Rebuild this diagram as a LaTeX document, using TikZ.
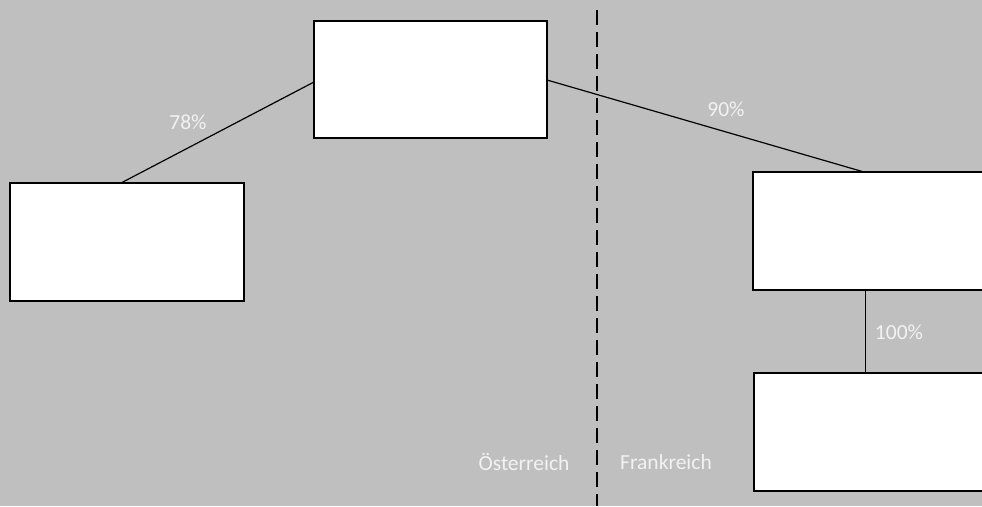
\documentclass[tikz,border=0pt]{standalone}
\usepackage{fontspec}
\setmainfont{Carlito}
\begin{document}
\begin{tikzpicture}[x=1pt,y=-1pt,
  box/.style={draw=black,line width=2.6pt,fill=white,rectangle,inner sep=0pt,outer sep=0pt},
  link/.style={draw=black,line width=1.2pt},
  border/.style={draw=black,line width=2pt,dash pattern=on 15pt off 7pt},
  lbl/.style={text=white!95!black,font=\fontsize{21.5}{25}\selectfont,inner sep=0pt}]
  % canvas
  \clip (0,0) rectangle (982,506);
  \fill[fill={rgb,255:red,191;green,191;blue,191}] (0,0) rectangle (982,506);

  % country border
  \coordinate (bTop) at (597,10);
  \coordinate (bBot) at (597,506);
  \draw[border] (bTop) -- (bBot);

  % companies
  \node[box,minimum width=233pt,minimum height=117pt] (top) at (430.5,79.5) {};
  \node[box,minimum width=234pt,minimum height=118pt] (left) at (127,242) {};
  \node[box,minimum width=240pt,minimum height=118pt] (r1) at (873,231) {};
  \node[box,minimum width=240pt,minimum height=118pt] (r2) at (874,432) {};

  % holdings
  \draw[link] ([yshift=-2.5pt]top.west) -- ([xshift=-6pt]left.north);
  \draw[link] ([yshift=-0.5pt]top.east) -- ([xshift=-9pt]r1.north);
  \draw[link,line width=1pt] ([xshift=-8pt]r1.south) -- ([xshift=-8pt]r1.south |- r2.north);

  % shares
  \node[lbl] (p78) at (188,122) {78\%};
  \node[lbl] (p90) at (726,109) {90\%};
  \node[lbl] (p100) at (899,332) {100\%};

  % countries
  \node[lbl] (at) at (524,462) {Österreich};
  \node[lbl] (fr) at (666,462) {Frankreich};
\end{tikzpicture}
\end{document}
